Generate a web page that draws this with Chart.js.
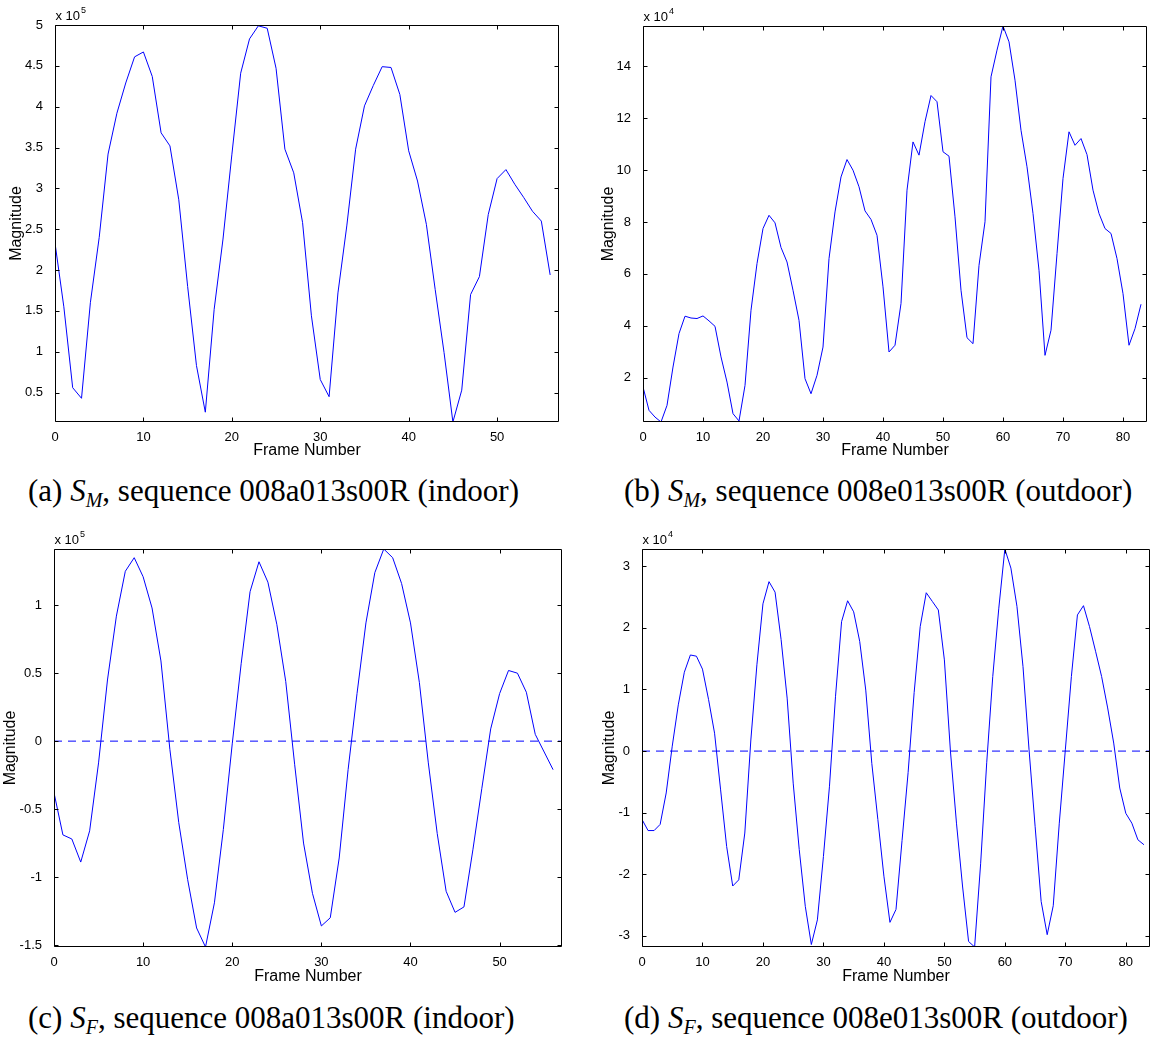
<!DOCTYPE html>
<html>
<head>
<meta charset="utf-8">
<script src="https://cdn.jsdelivr.net/npm/chart.js@4.4.1/dist/chart.umd.min.js"></script>
<style>
  body { margin: 0; background: #fff; width: 1159px; height: 1043px; position: relative; overflow: hidden; }
  canvas { position: absolute; }
  .cap {
    position: absolute; white-space: nowrap; color: #000;
    font-family: "Liberation Serif", "Times New Roman", serif; font-size: 31px; line-height: 36px;
  }
  .cap sub { font-size: 20px; vertical-align: -6px; line-height: 0; }
</style>
</head>
<body>
<canvas id="chartA" width="580" height="462" style="left:0;top:0"></canvas>
<canvas id="chartB" width="579" height="462" style="left:580px;top:0"></canvas>
<canvas id="chartC" width="580" height="463" style="left:0;top:525px"></canvas>
<canvas id="chartD" width="579" height="463" style="left:580px;top:525px"></canvas>

<div class="cap" style="left:28px;top:473px">(a) <i>S<sub>M</sub></i>, sequence 008a013s00R (indoor)</div>
<div class="cap" style="left:624px;top:473px">(b) <i>S<sub>M</sub></i>, sequence 008e013s00R (outdoor)</div>
<div class="cap" style="left:28px;top:1000px">(c) <i>S<sub>F</sub></i>, sequence 008a013s00R (indoor)</div>
<div class="cap" style="left:624px;top:1000px">(d) <i>S<sub>F</sub></i>, sequence 008e013s00R (outdoor)</div>

<script>
const FONT = '"Liberation Sans", Arial, Helvetica, sans-serif';

// (a) S_M indoor, frames 0..56, magnitude in units of 1e5
const smIndoor = [
  2.33, 1.55, 0.56, 0.43, 1.60, 2.40, 3.42, 3.92, 4.29, 4.61,
  4.67, 4.37, 3.68, 3.52, 2.86, 1.80, 0.83, 0.26, 1.52, 2.38,
  3.41, 4.41, 4.83, 4.99, 4.96, 4.47, 3.48, 3.19, 2.58, 1.44,
  0.66, 0.45, 1.72, 2.54, 3.48, 4.01, 4.26, 4.49, 4.48, 4.15,
  3.46, 3.09, 2.56, 1.76, 0.99, 0.14, 0.53, 1.70, 1.92, 2.68,
  3.12, 3.23, 3.05, 2.89, 2.72, 2.60, 1.94
];

// (b) S_M outdoor, frames 0..83, units of 1e4
const smOutdoor = [
  1.64, 0.74, 0.48, 0.29, 0.93, 2.41, 3.70, 4.37, 4.30, 4.28,
  4.38, 4.19, 3.98, 2.80, 1.83, 0.61, 0.33, 1.70, 4.60, 6.40,
  7.75, 8.26, 7.97, 7.02, 6.46, 5.37, 4.21, 1.96, 1.38, 2.09,
  3.18, 6.59, 8.39, 9.74, 10.41, 10.00, 9.36, 8.43, 8.10, 7.49,
  5.50, 2.99, 3.25, 4.86, 9.23, 11.09, 10.58, 11.87, 12.88, 12.64,
  10.71, 10.54, 8.20, 5.37, 3.54, 3.31, 6.33, 8.01, 13.60, 14.63,
  15.56, 14.95, 13.47, 11.54, 10.13, 8.33, 6.14, 2.86, 3.83, 6.78,
  9.68, 11.48, 10.96, 11.22, 10.60, 9.23, 8.33, 7.75, 7.56, 6.59,
  5.24, 3.25, 3.89, 4.83
];

// (c) S_F indoor, frames 0..56, units of 1e5
const sfIndoor = [
  -0.38, -0.69, -0.72, -0.89, -0.66, -0.16, 0.45, 0.92, 1.25, 1.35,
  1.21, 0.98, 0.59, -0.06, -0.60, -1.02, -1.375, -1.515, -1.19, -0.65,
  -0.02, 0.57, 1.10, 1.32, 1.17, 0.86, 0.44, -0.17, -0.75, -1.12,
  -1.36, -1.30, -0.86, -0.21, 0.35, 0.87, 1.24, 1.414, 1.35, 1.16,
  0.87, 0.43, -0.16, -0.68, -1.105, -1.26, -1.22, -0.80, -0.35, 0.09,
  0.35, 0.52, 0.50, 0.36, 0.05, -0.08, -0.21
];

// (d) S_F outdoor, frames 0..83, units of 1e4
const sfOutdoor = [
  -1.11, -1.29, -1.29, -1.19, -0.68, 0.08, 0.75, 1.28, 1.56, 1.54,
  1.33, 0.84, 0.29, -0.63, -1.55, -2.19, -2.09, -1.33, 0.18, 1.40,
  2.39, 2.75, 2.58, 1.81, 0.86, -0.52, -1.60, -2.52, -3.14, -2.74,
  -1.71, -0.57, 0.89, 2.10, 2.44, 2.26, 1.78, 0.99, -0.20, -1.11,
  -2.03, -2.78, -2.57, -1.45, -0.35, 0.95, 2.02, 2.57, 2.43, 2.29,
  1.48, 0.00, -1.17, -2.19, -3.09, -3.18, -1.82, -0.19, 1.21, 2.32,
  3.28, 2.97, 2.35, 1.37, 0.02, -1.22, -2.44, -2.98, -2.51, -1.17,
  0.02, 1.21, 2.21, 2.36, 2.02, 1.62, 1.21, 0.70, 0.13, -0.60,
  -1.01, -1.17, -1.44, -1.52
];

// tick labels
const indoorXTicks = [0, 10, 20, 30, 40, 50];
const outdoorXTicks = [0, 10, 20, 30, 40, 50, 60, 70, 80];
const smIndoorYTicks = [0.5, 1, 1.5, 2, 2.5, 3, 3.5, 4, 4.5, 5];
const smOutdoorYTicks = [2, 4, 6, 8, 10, 12, 14];
const sfIndoorYTicks = [-1.5, -1, -0.5, 0, 0.5, 1];
const sfOutdoorYTicks = [-3, -2, -1, 0, 1, 2, 3];

// axis limits (tight axes)
const indoorXMax = 57;
const outdoorXMax = 84;
const smIndoorY = [0.14, 5.0];
const smOutdoorY = [0.29, 15.56];
const sfIndoorY = [-1.515, 1.414];
const sfOutdoorY = [-3.18, 3.28];

// box, inward tick marks and the "x 10^n" multiplier
const frameBox = {
  id: 'frameBox',
  afterDraw(chart, args, opts) {
    const { ctx, chartArea: a, scales } = chart;
    const L = Math.round(a.left) + 0.5, R = Math.round(a.right) - 0.5;
    const T = Math.round(a.top) + 0.5, B = Math.round(a.bottom) - 0.5;
    const tl = 4;
    ctx.save();
    ctx.strokeStyle = '#000';
    ctx.lineWidth = 1;
    ctx.beginPath();
    ctx.rect(L, T, R - L, B - T);
    scales.x.ticks.forEach(t => {
      const px = Math.round(scales.x.getPixelForValue(t.value)) + 0.5;
      ctx.moveTo(px, B); ctx.lineTo(px, B - tl);
      ctx.moveTo(px, T); ctx.lineTo(px, T + tl);
    });
    scales.y.ticks.forEach(t => {
      const py = Math.round(scales.y.getPixelForValue(t.value)) + 0.5;
      ctx.moveTo(L, py); ctx.lineTo(L + tl, py);
      ctx.moveTo(R, py); ctx.lineTo(R - tl, py);
    });
    ctx.stroke();

    ctx.fillStyle = '#000';
    ctx.textBaseline = 'alphabetic';
    ctx.font = '13px ' + FONT;
    ctx.fillText('x 10', L, T - 6);
    const w = ctx.measureText('x 10').width;
    ctx.font = '9px ' + FONT;
    ctx.fillText(opts.exp, L + w + 1, T - 13);
    ctx.restore();
  }
};

function makeChart(id, values, cfg) {
  const datasets = [{
    data: values.map((v, i) => ({ x: i, y: v })),
    borderColor: '#0000ff',
    borderWidth: 1,
    pointRadius: 0,
    tension: 0
  }];
  if (cfg.zeroLine) {
    datasets.push({
      data: [{ x: 0, y: 0 }, { x: cfg.xMax, y: 0 }],
      borderColor: '#0000ff',
      borderWidth: 1,
      borderDash: [8, 6],
      pointRadius: 0
    });
  }
  const fmt = v => String(v);
  return new Chart(document.getElementById(id), {
    type: 'line',
    data: { datasets },
    plugins: [frameBox],
    options: {
      responsive: false,
      animation: false,
      devicePixelRatio: 1,
      layout: { padding: { left: 0, top: cfg.padTop, right: cfg.padRight, bottom: 0 } },
      plugins: {
        legend: { display: false },
        tooltip: { enabled: false },
        frameBox: { exp: cfg.exp }
      },
      scales: {
        x: {
          type: 'linear',
          min: 0,
          max: cfg.xMax,
          grid: { display: false },
          border: { display: false },
          afterBuildTicks: s => { s.ticks = cfg.xTicks.map(v => ({ value: v })); },
          afterFit: s => { s.height = cfg.xHeight; },
          ticks: { padding: 0, maxRotation: 0, color: '#000', font: { family: FONT, size: 13 }, callback: fmt },
          title: { display: true, text: 'Frame Number', color: '#000', padding: { top: 0, bottom: 2 },
                   font: { family: FONT, size: 16, lineHeight: 1.2 } }
        },
        y: {
          type: 'linear',
          min: cfg.yRange[0],
          max: cfg.yRange[1],
          grid: { display: false },
          border: { display: false },
          afterBuildTicks: s => { s.ticks = cfg.yTicks.map(v => ({ value: v })); },
          afterFit: s => { s.width = cfg.yWidth; },
          ticks: { padding: 4, color: '#000', font: { family: FONT, size: 13 }, callback: fmt },
          title: { display: true, text: 'Magnitude', color: '#000', padding: { top: cfg.yTitlePad, bottom: 0 },
                   font: { family: FONT, size: 16, lineHeight: 1.2 } }
        }
      }
    }
  });
}

makeChart('chartA', smIndoor, {
  xMax: indoorXMax, xTicks: indoorXTicks, yRange: smIndoorY, yTicks: smIndoorYTicks, exp: '5',
  padTop: 25, padRight: 21, yWidth: 55, xHeight: 40, yTitlePad: 7
});
makeChart('chartB', smOutdoor, {
  xMax: outdoorXMax, xTicks: outdoorXTicks, yRange: smOutdoorY, yTicks: smOutdoorYTicks, exp: '4',
  padTop: 26, padRight: 12, yWidth: 63, xHeight: 40, yTitlePad: 19
});
makeChart('chartC', sfIndoor, {
  xMax: indoorXMax, xTicks: indoorXTicks, yRange: sfIndoorY, yTicks: sfIndoorYTicks, exp: '5', zeroLine: true,
  padTop: 24, padRight: 18, yWidth: 54, xHeight: 41, yTitlePad: 1
});
makeChart('chartD', sfOutdoor, {
  xMax: outdoorXMax, xTicks: outdoorXTicks, yRange: sfOutdoorY, yTicks: sfOutdoorYTicks, exp: '4', zeroLine: true,
  padTop: 24, padRight: 9, yWidth: 62, xHeight: 41, yTitlePad: 20
});
</script>
</body>
</html>
